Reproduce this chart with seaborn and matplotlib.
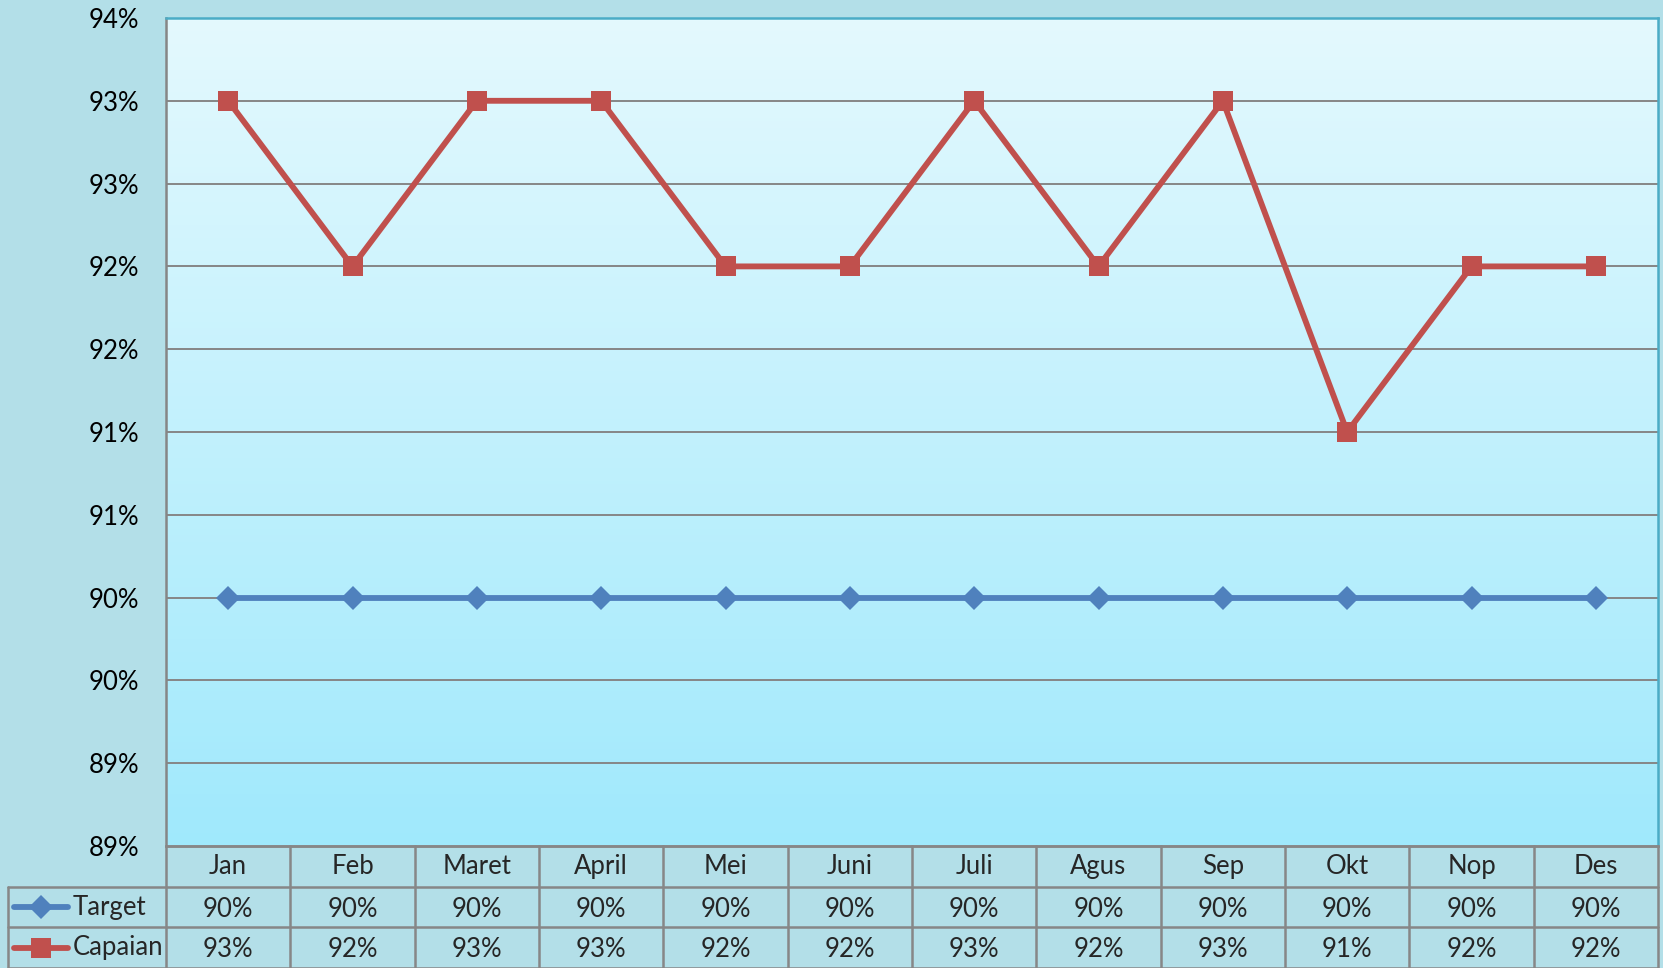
import math
import numpy as np
import pandas as pd
import matplotlib
matplotlib.use('Agg')
import matplotlib.pyplot as plt
from matplotlib.colors import LinearSegmentedColormap
from matplotlib.lines import Line2D
import seaborn as sns

sns.set_theme(style='white')
plt.rcParams['font.family'] = ['Lato', 'DejaVu Sans']

# data
months = ['Jan', 'Feb', 'Maret', 'April', 'Mei', 'Juni', 'Juli', 'Agus', 'Sep', 'Okt', 'Nop', 'Des']
target = [90, 90, 90, 90, 90, 90, 90, 90, 90, 90, 90, 90]
capaian = [93, 92, 93, 93, 92, 92, 93, 92, 93, 91, 92, 92]
y_ticks = [88.5, 89.0, 89.5, 90.0, 90.5, 91.0, 91.5, 92.0, 92.5, 93.0, 93.5]

df = pd.DataFrame({
    'Bulan': months * 2,
    'x': list(range(len(months))) * 2,
    'Nilai': target + capaian,
    'Seri': ['Target'] * len(months) + ['Capaian'] * len(months),
})

blue = '#4f81bd'
red = '#c0504d'
grid_c = '#868686'

W, H = 1663, 968
fig = plt.figure(figsize=(W / 100, H / 100), dpi=100)
fig.patch.set_facecolor('#b3dfe8')

left, right, top, bottom = 166, 1658, 18, 846
ax = fig.add_axes([left / W, 1 - bottom / H, (right - left) / W, (bottom - top) / H])

# plot area gradient
cmap = LinearSegmentedColormap.from_list('bg', ['#e4f9fe', '#a0e9fc'])
ax.imshow(np.linspace(0, 1, 256).reshape(-1, 1), cmap=cmap, aspect='auto',
          extent=[-0.5, 11.5, y_ticks[0], y_ticks[-1]], zorder=0)

for t in y_ticks[1:-1]:
    ax.axhline(t, color=grid_c, lw=1.4, zorder=1)

sns.lineplot(data=df, x='x', y='Nilai', hue='Seri', style='Seri',
             palette={'Target': blue, 'Capaian': red},
             markers={'Target': 'D', 'Capaian': 's'}, dashes=False,
             linewidth=4.2, markersize=14, markeredgewidth=0,
             legend=False, ax=ax, zorder=3)
for ln in ax.lines:
    if ln.get_marker() == 'D':
        ln.set_markersize(12)

ax.set_xlim(-0.5, 11.5)
ax.set_ylim(y_ticks[0], y_ticks[-1])
ax.set_yticks(y_ticks)
ax.set_yticklabels([f'{math.floor(t + 0.5)}%' for t in y_ticks])
ax.set_xticks([])
ax.set_xlabel('')
ax.set_ylabel('')
ax.tick_params(axis='y', length=0, pad=19, labelsize=18.5, labelcolor='black')
for s in ['top', 'right']:
    ax.spines[s].set_color('#4bacc6')
    ax.spines[s].set_linewidth(1.8)
ax.spines['left'].set_color(grid_c)
ax.spines['left'].set_linewidth(1.8)
ax.spines['bottom'].set_color(grid_c)
ax.spines['bottom'].set_linewidth(1.8)

# data table below the chart
t_left = 8
col_w = (right - left) / len(months)
x0 = -0.5 - (left - t_left) / col_w
tax = fig.add_axes([t_left / W, 0, (right - t_left) / W, (H - bottom) / H])
tax.set_xlim(x0, 11.5)
tax.set_ylim(3, 0)
tax.axis('off')

lc = '#878787'
lw = 1.8
fs = 18.5
# horizontal lines
tax.plot([-0.5, 11.5], [0, 0], color=lc, lw=lw, clip_on=False)
tax.plot([x0, 11.5], [1, 1], color=lc, lw=lw, clip_on=False)
tax.plot([x0, 11.5], [2, 2], color=lc, lw=lw, clip_on=False)
tax.plot([x0, 11.5], [3, 3], color=lc, lw=lw, clip_on=False)
# vertical lines
tax.plot([x0, x0], [1, 3], color=lc, lw=lw, clip_on=False)
for i in range(len(months) + 1):
    tax.plot([i - 0.5, i - 0.5], [0, 3], color=lc, lw=lw, clip_on=False)

for i, m in enumerate(months):
    tax.text(i, 0.5, m, ha='center', va='center', fontsize=fs)
    tax.text(i, 1.55, f'{target[i]}%', ha='center', va='center', fontsize=fs)
    tax.text(i, 2.55, f'{capaian[i]}%', ha='center', va='center', fontsize=fs)

# legend keys
px = 1 / col_w
for row, name, col, mk, ms in [(1.5, 'Target', blue, 'D', 12), (2.5, 'Capaian', red, 's', 14)]:
    xs = [x0 + 6 * px, x0 + 60 * px]
    tax.add_line(Line2D(xs, [row, row], color=col, lw=4.2, solid_capstyle='round'))
    tax.plot([(xs[0] + xs[1]) / 2], [row], marker=mk, ms=ms, color=col, mew=0)
    tax.text(x0 + 65 * px, row, name, ha='left', va='center', fontsize=fs)

fig.savefig('out.png', dpi=100, facecolor=fig.get_facecolor())
